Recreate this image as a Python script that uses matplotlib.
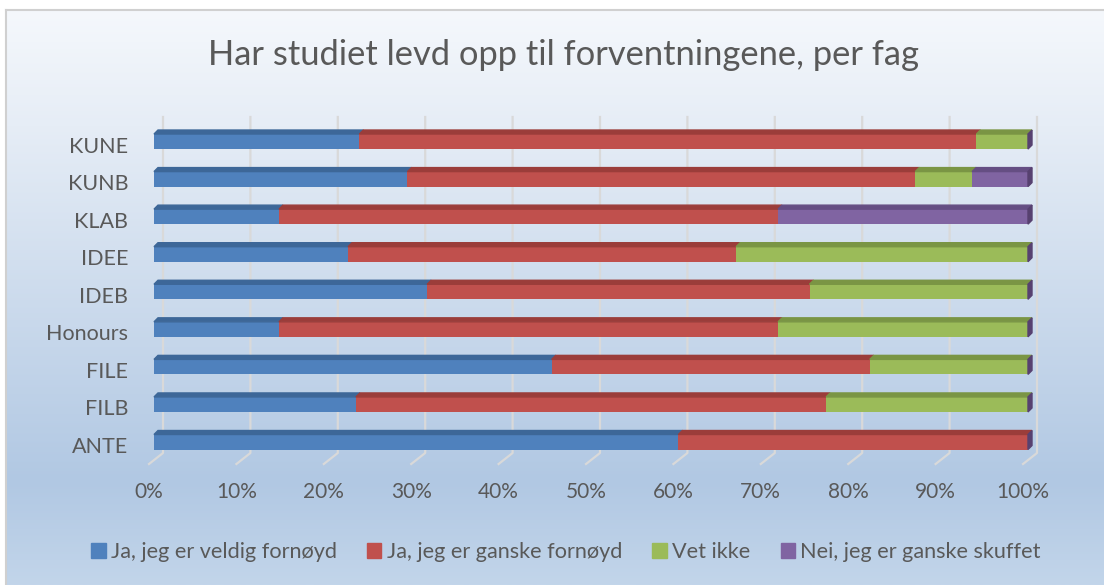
import numpy as np
import matplotlib.pyplot as plt
import matplotlib.transforms as mtransforms
from matplotlib.patches import Polygon, Patch
from matplotlib.colors import LinearSegmentedColormap

plt.rcParams['font.family'] = ['Lato', 'DejaVu Sans']

# data (percent of answers per study programme)
fag = ['ANTE', 'FILB', 'FILE', 'Honours', 'IDEB', 'IDEE', 'KLAB', 'KUNB', 'KUNE']
veldig = [60.0, 23.1, 45.5, 14.3, 31.25, 22.2, 14.3, 29.0, 23.5]
ganske = [40.0, 53.8, 36.4, 57.1, 43.75, 44.4, 57.1, 58.1, 70.6]
vet_ikke = [0.0, 23.1, 18.1, 28.6, 25.0, 33.4, 0.0, 6.5, 5.9]
skuffet = [0.0, 0.0, 0.0, 0.0, 0.0, 0.0, 28.6, 6.4, 0.0]
serier = ['Ja, jeg er veldig fornøyd', 'Ja, jeg er ganske fornøyd', 'Vet ikke', 'Nei, jeg er ganske skuffet']
ticks = [0, 10, 20, 30, 40, 50, 60, 70, 80, 90, 100]

front = ['#4f81bd', '#c0504d', '#9bbb59', '#8064a2']
top = ['#3d6798', '#9b3d3a', '#7a9544', '#654e83']
side = '#574170'
grey = '#595959'

W, H = 1104, 585
fig = plt.figure(figsize=(W / 100, H / 100), dpi=100)

# background gradient + border
bg = fig.add_axes([0, 0, 1, 1])
bg.set_xlim(0, W)
bg.set_ylim(H, 0)
bg.axis('off')
cmap = LinearSegmentedColormap.from_list(
    'bg', [(0, '#f5f8fc'), (0.2, '#e6edf6'), (0.82, '#b1c8e3'), (1, '#c2d5ea')])
grad = np.linspace(0, 1, 256).reshape(-1, 1)
bg.imshow(grad, cmap=cmap, extent=[6, W, H, 10], aspect='auto')
bg.plot([6, W], [10, 10], color='#d0d0d0', lw=1.5)
bg.plot([6, 6], [10, H], color='#d0d0d0', lw=1.5)

# plot area: front plane 0..100% spans 154..1028 px, rows 37.56 px apart
ax = fig.add_axes([154 / W, 1 - 460 / H, 874 / W, 340 / H])
ax.set_xlim(0, 100)
ax.set_ylim(-0.479, 8.573)
ax.set_frame_on(False)
ax.patch.set_visible(False)

px = 100 / 874
py = 1 / 37.56


def ypix(p):
    return (442 - p) * py


# back wall gridlines with floor diagonals
for t in ticks:
    xb = t + 9 * px
    ax.plot([xb, xb, xb - 14 * px], [ypix(117), ypix(453), ypix(464)],
            color='#d9d9d9', lw=1.6, zorder=1, clip_on=False)

y = np.arange(len(fag))
h = 15 * py
dx, dy = 4 * px, 4 * py
left = np.zeros(len(fag))
for k, vals in enumerate([veldig, ganske, vet_ikke, skuffet]):
    vals = np.array(vals)
    ax.barh(y, vals, left=left, height=h, color=front[k], zorder=3)
    for i in range(len(fag)):
        if vals[i] > 0:
            l, r, yt = left[i], left[i] + vals[i], y[i] + h / 2
            ax.add_patch(Polygon([(l, yt), (r, yt), (r + dx, yt + dy), (l + dx, yt + dy)],
                                 closed=True, color=top[k], zorder=3, clip_on=False))
    left = left + vals

for i in range(len(fag)):
    r = left[i]
    ax.add_patch(Polygon([(r, y[i] - h / 2), (r, y[i] + h / 2), (r + dx, y[i] + h / 2 + dy),
                          (r + dx, y[i] - h / 2 + dy)],
                         closed=True, color=side, zorder=3, clip_on=False))

ax.set_xticks(ticks, [f'{t}%' for t in ticks])
ax.set_yticks(y, fag)
ax.tick_params(axis='x', length=0, pad=15.5, labelsize=15, labelcolor=grey)
ax.tick_params(axis='y', length=0, pad=18.5, labelsize=15.5, labelcolor=grey)
shift = mtransforms.ScaledTranslation(-5 / 100, 0, fig.dpi_scale_trans)
for lab in ax.get_xticklabels():
    lab.set_transform(lab.get_transform() + shift)
shift_y = mtransforms.ScaledTranslation(0, -3 / 100, fig.dpi_scale_trans)
for lab in ax.get_yticklabels():
    lab.set_transform(lab.get_transform() + shift_y)

fig.text(563 / W, 1 - 55 / H, 'Har studiet levd opp til forventningene, per fag',
         ha='center', va='center', fontsize=24.8, color=grey)

handles = [Patch(color=c) for c in front]
fig.legend(handles, serier, loc='center', bbox_to_anchor=(566 / W, 1 - 552 / H), ncol=4,
           frameon=False, fontsize=15.6, handlelength=0.65, handleheight=0.65,
           handletextpad=0.25, columnspacing=1.4, labelcolor=grey)

fig.savefig('out.png', dpi=100)
